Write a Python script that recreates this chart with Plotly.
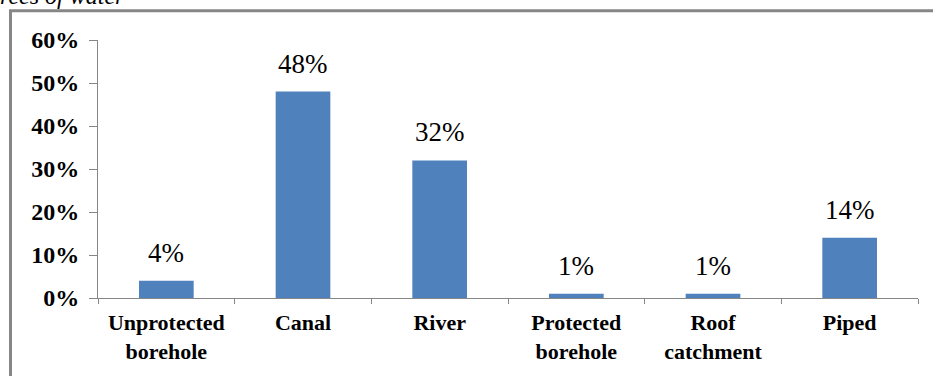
import plotly.graph_objects as go

categories = ["Unprotected<br>borehole", "Canal", "River", "Protected<br>borehole", "Roof<br>catchment", "Piped"]
values = [4, 48, 32, 1, 1, 14]
labels = ["4%", "48%", "32%", "1%", "1%", "14%"]
tick_vals = [0, 10, 20, 30, 40, 50, 60]
tick_text = ["0%", "10%", "20%", "30%", "40%", "50%", "60%"]

SERIF = "'Liberation Serif', 'Times New Roman', Times, serif"

W, H = 933, 376
ML, MR, MT, MB = 98, 15, 40, 76
PW, PH = W - ML - MR, H - MT - MB

def px_x(x):
    return (x - ML) / PW

def px_y(y):
    return (H - MB - y) / PH

fig = go.Figure()
fig.add_trace(go.Bar(
    x=categories, y=values,
    marker=dict(color="#4F81BD", line=dict(width=0)),
    width=0.4,
))

for c, v, t in zip(categories, values, labels):
    fig.add_annotation(x=c, y=v, text=t, showarrow=False, xref="x", yref="y",
                       yanchor="bottom", yshift=11,
                       font=dict(family=SERIF, size=27, color="black"))

fig.add_annotation(x=px_x(-2), y=px_y(11), xref="paper", yref="paper", text="<i>rces of water</i>",
                   showarrow=False, xanchor="left", yanchor="bottom",
                   font=dict(family=SERIF, size=24, color="black"))

fig.add_shape(type="rect", xref="paper", yref="paper",
              x0=px_x(10.5), x1=px_x(960), y0=px_y(10.5), y1=px_y(400),
              line=dict(color="#868686", width=3), fillcolor="rgba(0,0,0,0)", layer="below")

fig.update_layout(
    width=W, height=H,
    margin=dict(l=ML, r=MR, t=MT, b=MB),
    paper_bgcolor="white", plot_bgcolor="white",
    showlegend=False,
    bargap=0.6,
    font=dict(family=SERIF, color="black"),
    xaxis=dict(
        type="category", showline=True, linecolor="#868686", linewidth=1,
        ticks="outside", ticklen=5, tickcolor="#868686", tickson="boundaries",
        tickfont=dict(family=SERIF, size=22, color="black", weight="bold"),
        ticklabelstandoff=5,
        showgrid=False, zeroline=False,
    ),
    yaxis=dict(
        range=[0, 60], tickvals=tick_vals, ticktext=tick_text,
        showline=True, linecolor="#868686", linewidth=1,
        ticks="outside", ticklen=8, tickcolor="#868686",
        tickfont=dict(family=SERIF, size=24, color="black", weight="bold"),
        ticklabelstandoff=5,
        showgrid=False, zeroline=False,
    ),
)

fig.write_html("out.html")
